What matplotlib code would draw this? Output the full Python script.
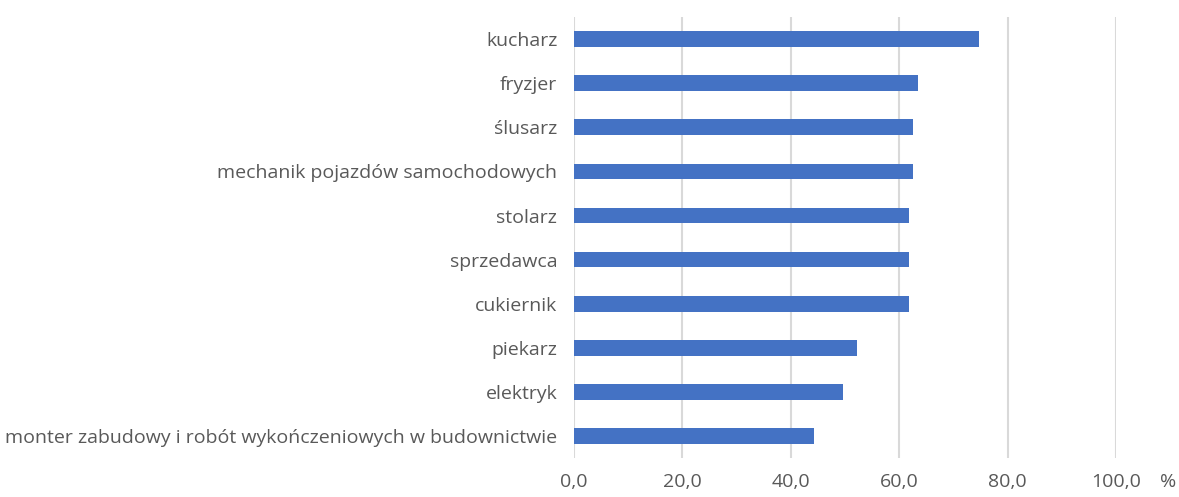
import matplotlib.pyplot as plt

plt.rcParams['font.family'] = ['Open Sans', 'DejaVu Sans']

zawody = ["kucharz", "fryzjer", "ślusarz", "mechanik pojazdów samochodowych",
          "stolarz", "sprzedawca", "cukiernik", "piekarz", "elektryk",
          "monter zabudowy i robót wykończeniowych w budownictwie"]
procent = [74.8, 63.5, 62.6, 62.6, 61.8, 61.8, 61.8, 52.3, 49.7, 44.3]
xticks = [0, 20, 40, 60, 80, 100]
xlabels = ["0,0", "20,0", "40,0", "60,0", "80,0", "100,0"]

fig = plt.figure(figsize=(11.79, 4.97), dpi=100)
ax = fig.add_axes([0.4868, 0.0789, 0.4597, 0.8863])

pos = list(range(len(zawody)))[::-1]
ax.barh(pos, procent, height=0.36, color='#4472C4', zorder=3)

ax.set_xlim(0, 100)
ax.set_ylim(-0.5, len(zawody) - 0.5)
ax.set_xticks(xticks)
ax.set_xticklabels(xlabels)
ax.set_yticks(pos)
ax.set_yticklabels(zawody)

ax.grid(axis='x', color='#d9d9d9', linewidth=1.5, zorder=0)
for s in ax.spines.values():
    s.set_visible(False)
ax.tick_params(axis='both', length=0, colors='#595959', labelsize=14)
ax.tick_params(axis='x', pad=11)
ax.tick_params(axis='y', pad=12)

fig.text(0.9907, 0.031, "%", color='#595959', fontsize=14, ha='center', va='center')

fig.savefig("out.png", dpi=100)
